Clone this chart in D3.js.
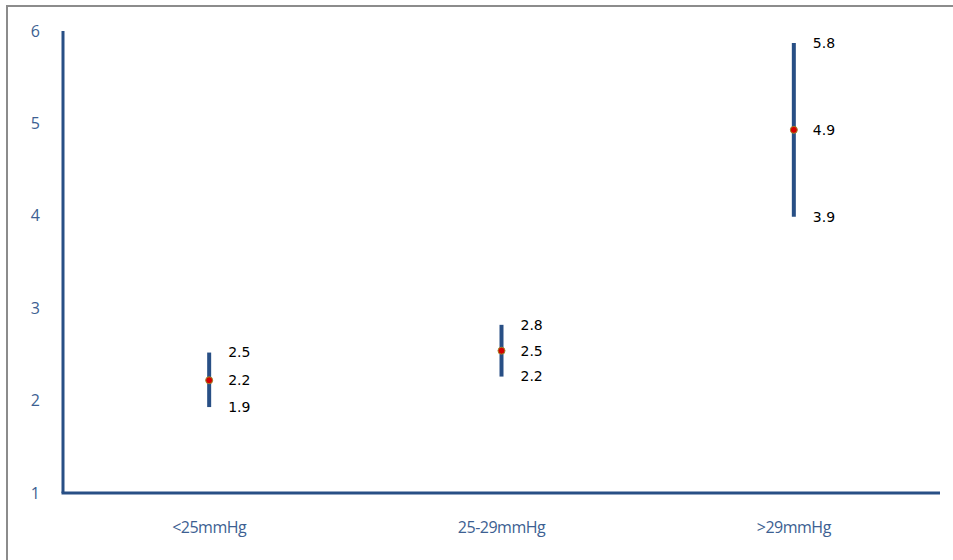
<!DOCTYPE html>
<html>
<head>
<meta charset="utf-8">
<script src="https://cdn.jsdelivr.net/npm/d3@7"></script>
<style>
  body { margin: 0; background: #fff; }
  svg { display: block; }
</style>
</head>
<body>
<div class="graph"></div>
<script>
// data
const categories = ["<25mmHg", "25-29mmHg", ">29mmHg"];
const highs = [2.52, 2.82, 5.87];
const means = [2.22, 2.54, 4.93];
const lows = [1.93, 2.26, 3.99];
const highLabels = ["2.5", "2.8", "5.8"];
const meanLabels = ["2.2", "2.5", "4.9"];
const lowLabels = ["1.9", "2.2", "3.9"];
const yTicks = [1, 2, 3, 4, 5, 6];

function main() {
  //setting
  const width = 953;
  const height = 560;
  const left = 63;
  const right = 940;
  const top = 31;
  const bottom = 493;
  const axisColor = "#284f85";
  const textColor = "#3d5f92";

  const svg = d3
    .select(".graph")
    .append("svg")
    .attr("width", width)
    .attr("height", height);

  //frame
  svg
    .append("rect")
    .attr("x", 7)
    .attr("y", 6)
    .attr("width", width)
    .attr("height", height)
    .style("fill", "#fff")
    .style("stroke", "#8c8c8c")
    .style("stroke-width", 2);

  //scales
  const yScale = d3.scaleLinear().domain([1, 6]).range([bottom, top]);
  const xScale = d3
    .scaleBand()
    .domain(categories)
    .range([left, right]);

  //y axis
  const yAxis = d3
    .axisLeft(yScale)
    .tickValues(yTicks)
    .tickFormat(d3.format("d"))
    .tickSize(0)
    .tickPadding(23);
  const gy = svg
    .append("g")
    .attr("transform", "translate(" + left + ",0)")
    .call(yAxis);
  gy.select(".domain").remove();
  gy.selectAll("text")
    .style("font-family", "'Open Sans', 'Liberation Sans', sans-serif")
    .style("font-size", "16px")
    .style("fill", textColor);
  svg
    .append("line")
    .attr("x1", left)
    .attr("x2", left)
    .attr("y1", top)
    .attr("y2", bottom)
    .style("stroke", axisColor)
    .style("stroke-width", 3);

  //x axis
  const xAxis = d3.axisBottom(xScale).tickSize(0).tickPadding(29);
  const gx = svg
    .append("g")
    .attr("transform", "translate(0," + bottom + ")")
    .call(xAxis);
  gx.select(".domain").remove();
  gx.selectAll("text")
    .style("font-family", "'Open Sans', 'Liberation Sans', sans-serif")
    .style("font-size", "16px")
    .style("letter-spacing", "-0.5px")
    .style("fill", textColor);
  svg
    .append("line")
    .attr("x1", left - 1.5)
    .attr("x2", right)
    .attr("y1", bottom)
    .attr("y2", bottom)
    .style("stroke", axisColor)
    .style("stroke-width", 3);

  const cx = d => xScale(d) + xScale.bandwidth() / 2;

  //high-low bars
  svg
    .selectAll(".whisker")
    .data(categories)
    .enter()
    .append("line")
    .attr("class", "whisker")
    .attr("x1", d => cx(d))
    .attr("x2", d => cx(d))
    .attr("y1", (d, i) => yScale(highs[i]))
    .attr("y2", (d, i) => yScale(lows[i]))
    .style("stroke", axisColor)
    .style("stroke-width", 4);

  //means
  svg
    .selectAll(".dot")
    .data(categories)
    .enter()
    .append("circle")
    .attr("class", "dot")
    .attr("cx", d => cx(d))
    .attr("cy", (d, i) => yScale(means[i]))
    .attr("r", 3.5)
    .style("fill", "#d40000")
    .style("stroke", "#a08a2a")
    .style("stroke-width", 1);

  //value labels
  const labelSets = [
    [highs, highLabels],
    [means, meanLabels],
    [lows, lowLabels]
  ];
  labelSets.forEach(([vals, labels]) => {
    svg
      .append("g")
      .selectAll("text")
      .data(categories)
      .enter()
      .append("text")
      .attr("x", d => cx(d) + 19)
      .attr("y", (d, i) => yScale(vals[i]))
      .attr("dy", "0.35em")
      .style("font-family", "'DejaVu Sans', sans-serif")
      .style("font-size", "14px")
      .style("fill", "#000")
      .text((d, i) => labels[i]);
  });
}

main();
</script>
</body>
</html>
